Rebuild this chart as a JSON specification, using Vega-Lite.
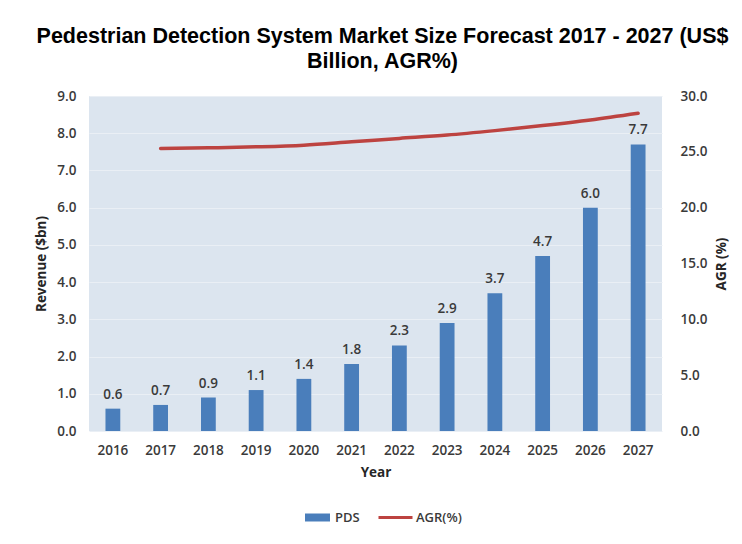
{
  "$schema": "https://vega.github.io/schema/vega-lite/v6.json",
  "autosize": {"type": "none"},
  "width": 573,
  "height": 335,
  "padding": {"left": 89, "top": 96, "right": 80, "bottom": 113},
  "background": "white",
  "title": {
    "text": ["Pedestrian Detection System Market Size Forecast 2017 - 2027 (US$", "Billion, AGR%)"],
    "font": "Liberation Sans",
    "fontSize": 21.5,
    "fontWeight": "bold",
    "color": "#000000",
    "anchor": "middle",
    "dx": 7,
    "offset": 17,
    "lineHeight": 25
  },
  "data": {
    "values": [
      {"year": "2016", "pds": 0.6, "agr": null},
      {"year": "2017", "pds": 0.7, "agr": 25.3},
      {"year": "2018", "pds": 0.9, "agr": 25.36},
      {"year": "2019", "pds": 1.1, "agr": 25.45},
      {"year": "2020", "pds": 1.4, "agr": 25.6},
      {"year": "2021", "pds": 1.8, "agr": 25.9},
      {"year": "2022", "pds": 2.3, "agr": 26.2},
      {"year": "2023", "pds": 2.9, "agr": 26.5},
      {"year": "2024", "pds": 3.7, "agr": 26.9},
      {"year": "2025", "pds": 4.7, "agr": 27.35},
      {"year": "2026", "pds": 6.0, "agr": 27.85},
      {"year": "2027", "pds": 7.7, "agr": 28.45}
    ]
  },
  "encoding": {
    "x": {
      "field": "year",
      "type": "ordinal",
      "scale": {"paddingInner": 0.69, "paddingOuter": 0.345},
      "axis": {
        "title": "Year",
        "labelAngle": 0,
        "labelPadding": 12,
        "titlePadding": 9,
        "ticks": false,
        "domain": false
      }
    }
  },
  "layer": [
    {
      "mark": {"type": "bar", "color": "#4a7ebb"},
      "encoding": {
        "y": {
          "field": "pds",
          "type": "quantitative",
          "scale": {"domain": [0, 9], "nice": false},
          "axis": {
            "title": "Revenue ($bn)",
            "values": [0, 1, 2, 3, 4, 5, 6, 7, 8, 9],
            "format": ".1f",
            "grid": true,
            "gridColor": "#eaeff5",
            "gridWidth": 1,
            "ticks": false,
            "domain": false,
            "labelPadding": 13,
            "titlePadding": 8
          }
        },
        "fill": {
          "datum": "PDS",
          "type": "nominal",
          "scale": {"domain": ["PDS"], "range": ["#4a7ebb"]},
          "legend": {
            "orient": "none",
            "legendX": 216,
            "legendY": 409,
            "title": null,
            "symbolType": "M-1,-0.32H1V0.32H-1Z",
            "symbolSize": 625,
            "symbolStrokeWidth": 0,
            "labelOffset": 5
          }
        }
      }
    },
    {
      "mark": {"type": "text", "baseline": "bottom", "dy": -7, "font": "Open Sans", "fontSize": 13.5, "fontWeight": 600, "color": "#3a3a3a"},
      "encoding": {
        "y": {"field": "pds", "type": "quantitative", "scale": {"domain": [0, 9], "nice": false}, "axis": null},
        "text": {"field": "pds", "type": "quantitative", "format": ".1f"}
      }
    },
    {
      "mark": {"type": "line", "interpolate": "monotone", "strokeWidth": 3.5, "strokeCap": "round"},
      "encoding": {
        "y": {
          "field": "agr",
          "type": "quantitative",
          "scale": {"domain": [0, 30], "nice": false},
          "axis": {
            "orient": "right",
            "title": "AGR (%)",
            "titleAngle": 270,
            "titlePadding": 22,
            "values": [0, 5, 10, 15, 20, 25, 30],
            "format": ".1f",
            "grid": false,
            "ticks": false,
            "domain": false,
            "labelPadding": 18
          }
        },
        "stroke": {
          "datum": "AGR(%)",
          "type": "nominal",
          "scale": {"domain": ["AGR(%)"], "range": ["#bd4340"]},
          "legend": {
            "orient": "none",
            "legendX": 288,
            "legendY": 403,
            "title": null,
            "symbolType": "stroke",
            "symbolSize": 1156,
            "symbolStrokeWidth": 3,
            "labelOffset": 2
          }
        }
      }
    }
  ],
  "resolve": {"scale": {"y": "independent"}},
  "config": {
    "view": {"fill": "#dce5ef", "stroke": null},
    "axis": {
      "labelFont": "Open Sans",
      "labelFontSize": 13.5,
      "labelFontWeight": 600,
      "labelColor": "#3a3a3a",
      "titleFont": "Open Sans",
      "titleFontSize": 13.5,
      "titleFontWeight": "bold",
      "titleColor": "#262626"
    },
    "legend": {
      "padding": 0,
      "labelFont": "Open Sans",
      "labelFontSize": 13,
      "labelFontWeight": 600,
      "labelColor": "#3a3a3a"
    }
  }
}
